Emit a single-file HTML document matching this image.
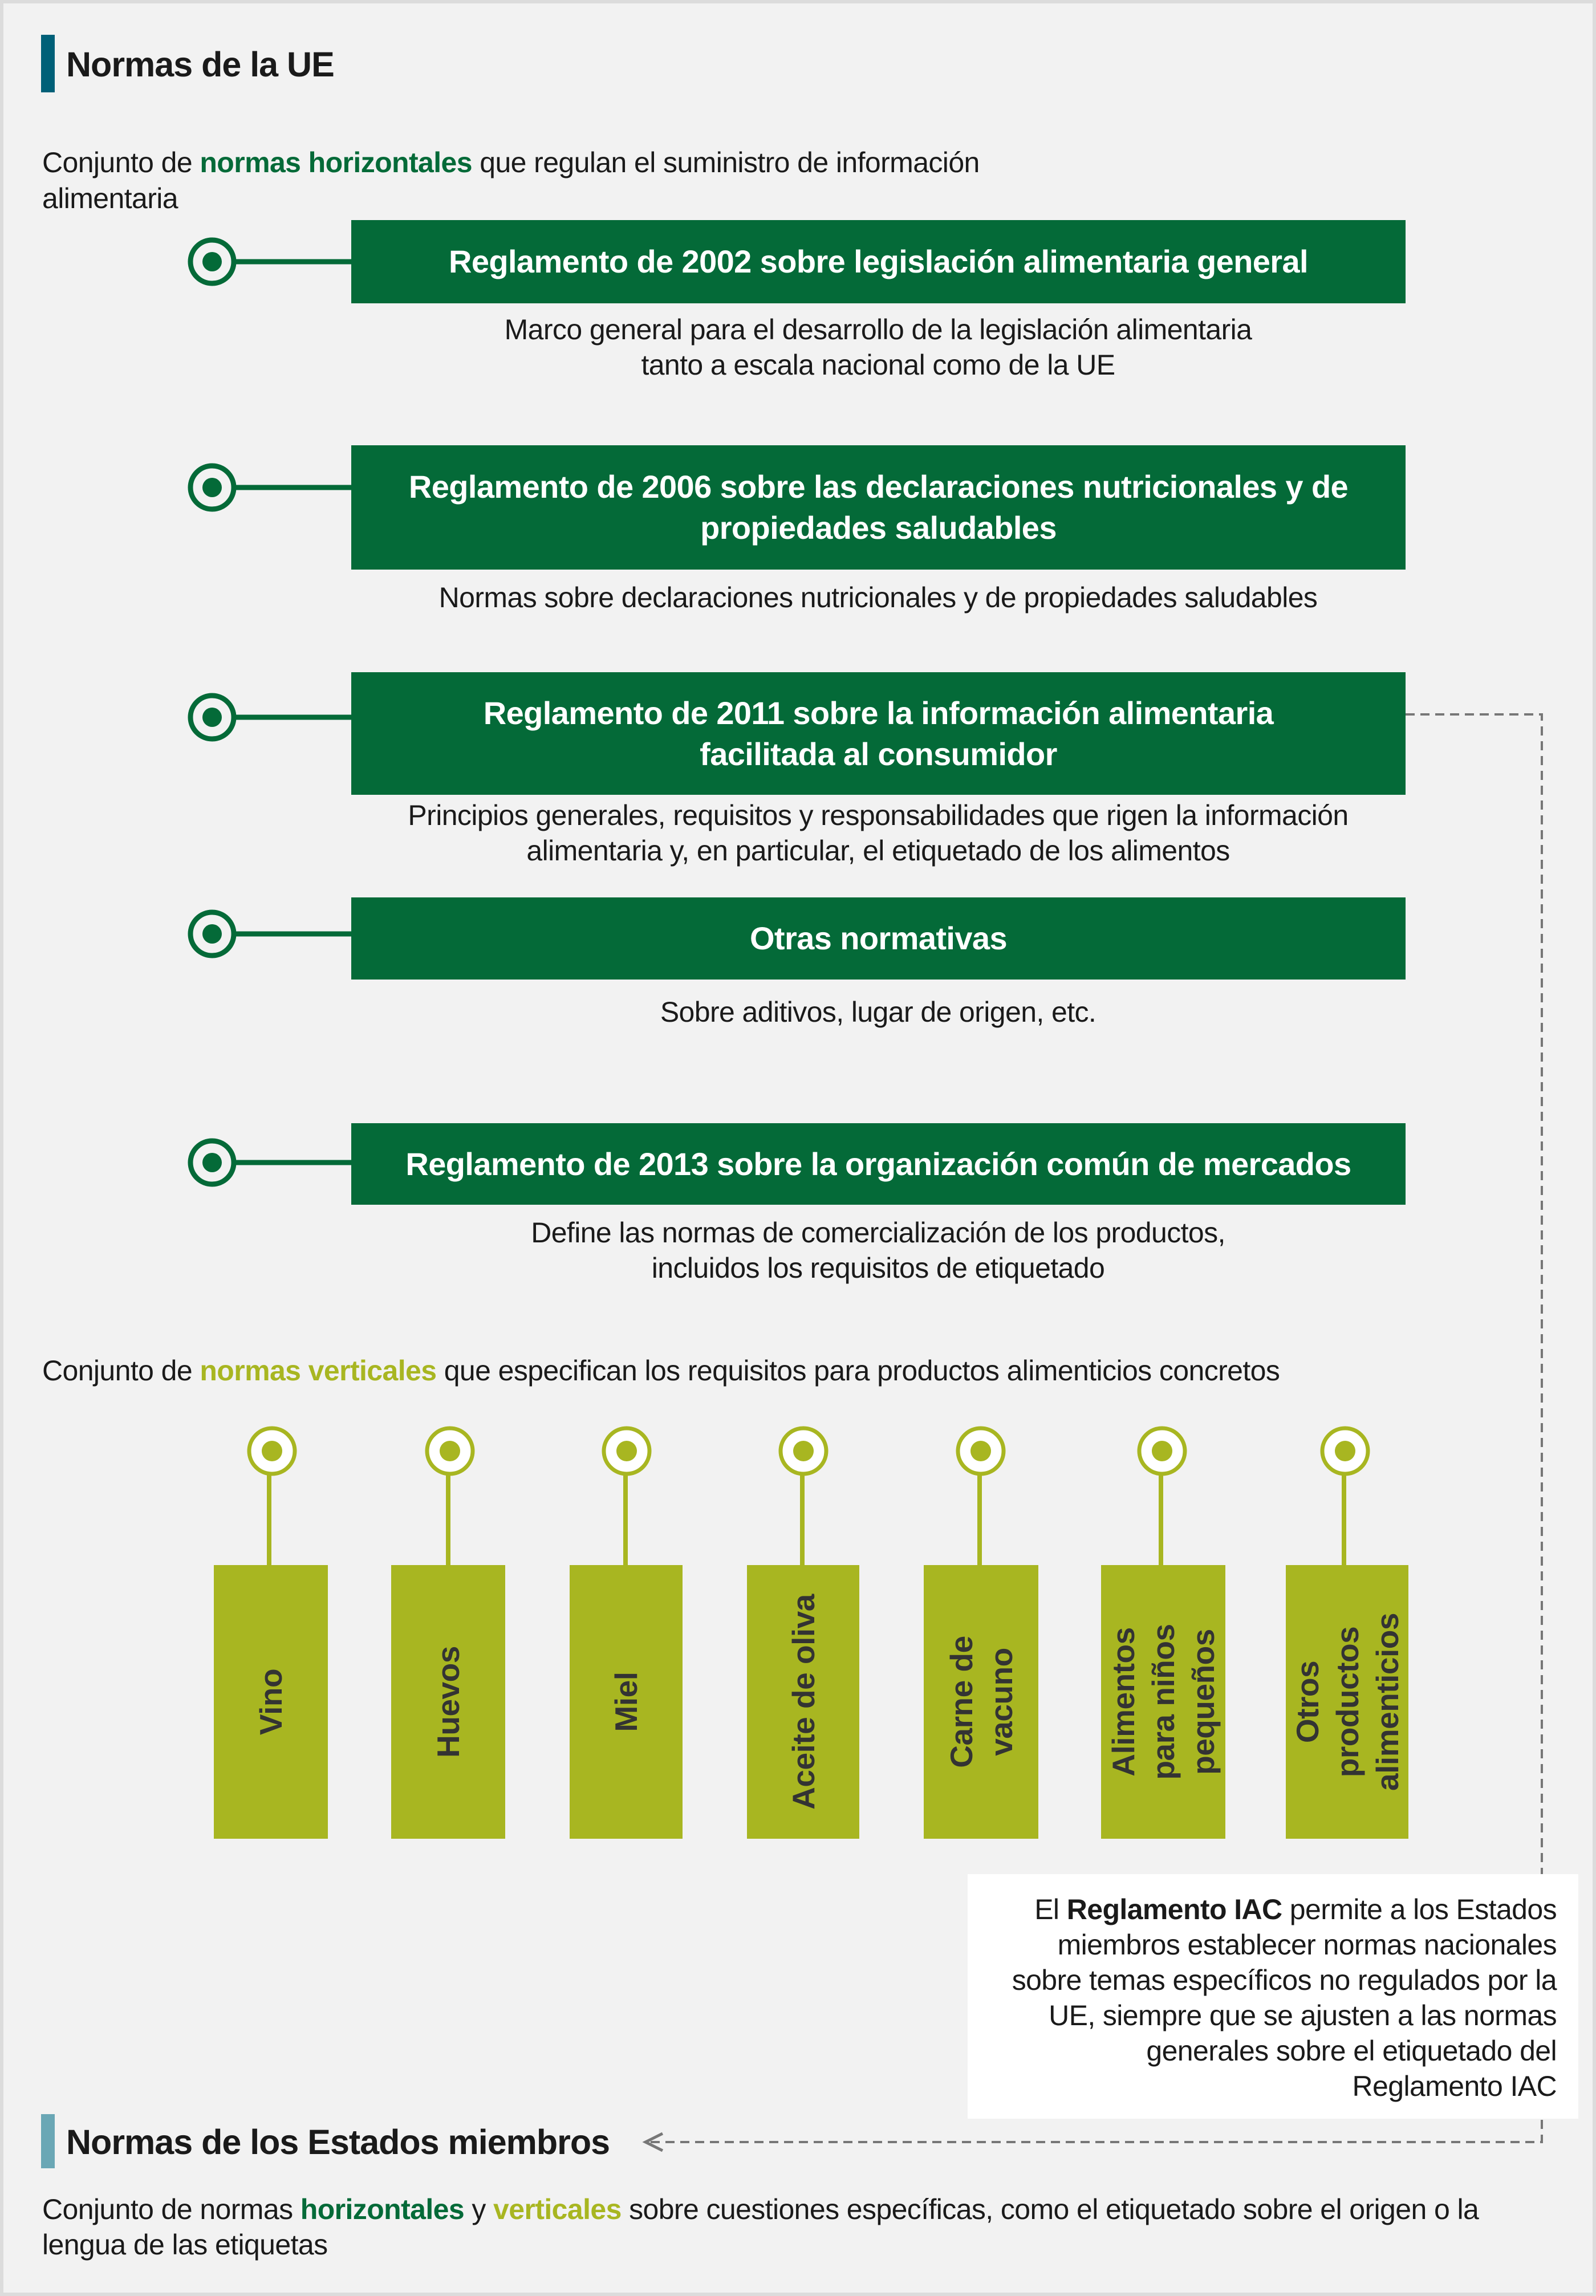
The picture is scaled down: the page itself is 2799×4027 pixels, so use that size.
<!DOCTYPE html>
<html><head><meta charset="utf-8"><style>
body{margin:0;width:2799px;height:4027px;background:#dcdcdc;position:relative;overflow:hidden;font-family:"Liberation Sans",sans-serif;}
#bg{position:absolute;left:6px;top:6px;width:2787px;height:4015px;background:#f2f2f2;}
.t{position:absolute;white-space:nowrap;color:#1a1a1a;font-size:50px;letter-spacing:-0.6px;line-height:62px;}
.c{text-align:center;transform:translateX(-50%);}
.box{position:absolute;left:616px;width:1849px;background:#046a38;color:#fff;font-weight:bold;font-size:56px;letter-spacing:-0.6px;line-height:72px;text-align:center;display:flex;align-items:center;justify-content:center;}
.vb{position:absolute;top:2745px;height:480px;background:#a8b621;}
.vl{position:absolute;left:50%;top:50%;transform:translate(-50%,-50%) rotate(-90deg);white-space:nowrap;font-weight:bold;font-size:55px;color:#333;line-height:70px;text-align:center;letter-spacing:-0.5px;}
.g{color:#046a38;font-weight:bold}.l{color:#a8b621;font-weight:bold}
</style></head><body>
<div id="bg"></div>
<div style="position:absolute;left:72px;top:61px;width:24px;height:101px;background:#006078"></div>
<div class="t" style="left:116px;top:78px;font-size:61px;font-weight:bold;line-height:70px;letter-spacing:-1px">Normas de la UE</div>
<div class="t" style="left:74px;top:254px">Conjunto de <span class="g">normas horizontales</span> que regulan el suministro de información</div>
<div class="t" style="left:74px;top:317px">alimentaria</div>

<svg style="position:absolute;left:0;top:0" width="2799" height="4027">
<g stroke="#046a38" stroke-width="9" fill="none">
<circle cx="372" cy="459" r="38"/><line x1="410" y1="459" x2="618" y2="459"/>
<circle cx="372" cy="855" r="38"/><line x1="410" y1="855" x2="618" y2="855"/>
<circle cx="372" cy="1258" r="38"/><line x1="410" y1="1258" x2="618" y2="1258"/>
<circle cx="372" cy="1638" r="38"/><line x1="410" y1="1638" x2="618" y2="1638"/>
<circle cx="372" cy="2039" r="38"/><line x1="410" y1="2039" x2="618" y2="2039"/>
</g>
<g fill="#046a38">
<circle cx="372" cy="459" r="17"/><circle cx="372" cy="855" r="17"/><circle cx="372" cy="1258" r="17"/><circle cx="372" cy="1638" r="17"/><circle cx="372" cy="2039" r="17"/>
</g>
<g stroke="#a8b621" stroke-width="8">
<line x1="472" y1="2585" x2="472" y2="2748"/><line x1="786" y1="2585" x2="786" y2="2748"/><line x1="1097" y1="2585" x2="1097" y2="2748"/><line x1="1407" y1="2585" x2="1407" y2="2748"/><line x1="1718" y1="2585" x2="1718" y2="2748"/><line x1="2036" y1="2585" x2="2036" y2="2748"/><line x1="2357" y1="2585" x2="2357" y2="2748"/>
</g>
<g stroke="#a8b621" stroke-width="7" fill="#fff">
<circle cx="477" cy="2545" r="40"/><circle cx="789" cy="2545" r="40"/><circle cx="1099" cy="2545" r="40"/><circle cx="1409" cy="2545" r="40"/><circle cx="1720" cy="2545" r="40"/><circle cx="2038" cy="2545" r="40"/><circle cx="2359" cy="2545" r="40"/>
</g>
<g fill="#a8b621">
<circle cx="477" cy="2545" r="18"/><circle cx="789" cy="2545" r="18"/><circle cx="1099" cy="2545" r="18"/><circle cx="1409" cy="2545" r="18"/><circle cx="1720" cy="2545" r="18"/><circle cx="2038" cy="2545" r="18"/><circle cx="2359" cy="2545" r="18"/>
</g>
<polyline points="2465,1253 2704,1253 2704,3757 1135,3757" stroke="#777" stroke-width="4" stroke-dasharray="16,10" fill="none"/>
<polyline points="1162,3742 1132,3757 1162,3772" stroke="#777" stroke-width="5" fill="none"/>
</svg>

<div class="box" style="top:386px;height:146px">Reglamento de 2002 sobre legislación alimentaria general</div>
<div class="t c" style="left:1540px;top:547px">Marco general para el desarrollo de la legislación alimentaria<br>tanto a escala nacional como de la UE</div>
<div class="box" style="top:781px;height:218px">Reglamento de 2006 sobre las declaraciones nutricionales y de<br>propiedades saludables</div>
<div class="t c" style="left:1540px;top:1017px">Normas sobre declaraciones nutricionales y de propiedades saludables</div>
<div class="box" style="top:1179px;height:215px">Reglamento de 2011 sobre la información alimentaria<br>facilitada al consumidor</div>
<div class="t c" style="left:1540px;top:1399px">Principios generales, requisitos y responsabilidades que rigen la información<br>alimentaria y, en particular, el etiquetado de los alimentos</div>
<div class="box" style="top:1574px;height:144px">Otras normativas</div>
<div class="t c" style="left:1540px;top:1744px">Sobre aditivos, lugar de origen, etc.</div>
<div class="box" style="top:1970px;height:143px">Reglamento de 2013 sobre la organización común de mercados</div>
<div class="t c" style="left:1540px;top:2131px">Define las normas de comercialización de los productos,<br>incluidos los requisitos de etiquetado</div>

<div class="t" style="left:74px;top:2373px">Conjunto de <span class="l">normas verticales</span> que especifican los requisitos para productos alimenticios concretos</div>

<div class="vb" style="left:375px;width:200px"><div class="vl">Vino</div></div>
<div class="vb" style="left:686px;width:200px"><div class="vl">Huevos</div></div>
<div class="vb" style="left:999px;width:198px"><div class="vl">Miel</div></div>
<div class="vb" style="left:1310px;width:197px"><div class="vl">Aceite de oliva</div></div>
<div class="vb" style="left:1620px;width:201px"><div class="vl">Carne de<br>vacuno</div></div>
<div class="vb" style="left:1931px;width:218px"><div class="vl">Alimentos<br>para niños<br>pequeños</div></div>
<div class="vb" style="left:2255px;width:215px"><div class="vl">Otros<br>productos<br>alimenticios</div></div>

<div style="position:absolute;left:1697px;top:3287px;width:1071px;height:429px;background:#fff"></div>
<div class="t" style="right:69px;top:3318px;text-align:right">El <b>Reglamento IAC</b> permite a los Estados<br>miembros establecer normas nacionales<br>sobre temas específicos no regulados por la<br>UE, siempre que se ajusten a las normas<br>generales sobre el etiquetado del<br>Reglamento IAC</div>

<div style="position:absolute;left:72px;top:3708px;width:24px;height:95px;background:#6aa7b5"></div>
<div class="t" style="left:116px;top:3722px;font-size:61px;font-weight:bold;line-height:70px;letter-spacing:-1px">Normas de los Estados miembros</div>
<div class="t" style="left:74px;top:3844px">Conjunto de normas <span class="g">horizontales</span> y <span class="l">verticales</span> sobre cuestiones específicas, como el etiquetado sobre el origen o la</div>
<div class="t" style="left:74px;top:3906px">lengua de las etiquetas</div>
</body></html>
